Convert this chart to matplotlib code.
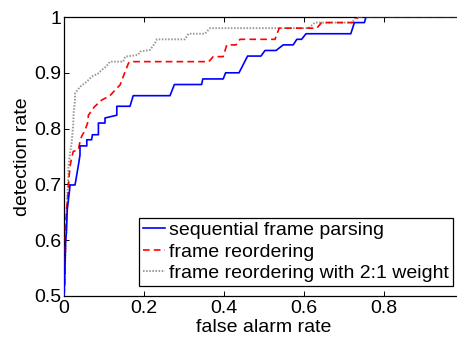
import matplotlib
matplotlib.use("Agg")
import matplotlib.pyplot as plt

plt.rcParams['font.family'] = ['Liberation Sans', 'DejaVu Sans']

# Sequential frame parsing (blue)
seq_x = [0, 0.002, 0.004, 0.006, 0.008, 0.011, 0.014, 0.015, 0.0275, 0.03, 0.034, 0.0375, 0.04, 0.04,
         0.057, 0.057, 0.069, 0.071, 0.086, 0.086, 0.1025, 0.1025, 0.132, 0.132, 0.165, 0.173, 0.265,
         0.276, 0.344, 0.347, 0.398, 0.404, 0.4375, 0.459, 0.4925, 0.5025, 0.53, 0.548, 0.573, 0.582,
         0.594, 0.605, 0.717, 0.726, 0.751, 0.755, 1.0]
seq_y = [0.5, 0.54, 0.6, 0.613, 0.654, 0.672, 0.69, 0.699, 0.699, 0.709, 0.726, 0.741, 0.753, 0.769,
         0.769, 0.78, 0.78, 0.789, 0.789, 0.81, 0.81, 0.819, 0.824, 0.84, 0.84, 0.859, 0.859,
         0.879, 0.879, 0.889, 0.889, 0.9, 0.9, 0.93, 0.93, 0.94, 0.94, 0.95, 0.95, 0.96,
         0.96, 0.97, 0.97, 0.99, 0.99, 1.0, 1.0]

# Frame reordering (red dashed)
reo_x = [0, 0.002, 0.003, 0.004, 0.007, 0.011, 0.012, 0.015, 0.019, 0.023, 0.036, 0.040, 0.044, 0.0525,
         0.059, 0.061, 0.076, 0.094, 0.115, 0.1275, 0.14, 0.148, 0.161, 0.165, 0.362, 0.373, 0.398,
         0.407, 0.43, 0.44, 0.5275, 0.538, 0.632, 0.644, 0.723, 0.736, 1.0]
reo_y = [0.5, 0.52, 0.57, 0.63, 0.66, 0.69, 0.708, 0.732, 0.747, 0.759, 0.762, 0.777, 0.786, 0.797,
         0.81, 0.824, 0.839, 0.851, 0.859, 0.869, 0.878, 0.893, 0.917, 0.92, 0.92, 0.929, 0.929,
         0.95, 0.95, 0.96, 0.96, 0.98, 0.98, 0.99, 0.99, 1.0, 1.0]

# Frame reordering with 2:1 weight (gray dotted)
wgt_x = [0, 0.003, 0.005, 0.007, 0.009, 0.011, 0.011, 0.015, 0.019, 0.023, 0.024, 0.0275, 0.0275, 0.04,
         0.057, 0.069, 0.086, 0.094, 0.105, 0.115, 0.148, 0.153, 0.185, 0.19, 0.215, 0.2275, 0.232,
         0.3025, 0.311, 0.3525, 0.365, 0.611, 0.6275, 0.72, 0.73, 1.0]
wgt_y = [0.5, 0.56, 0.6, 0.654, 0.69, 0.714, 0.732, 0.756, 0.774, 0.806, 0.827, 0.851, 0.863, 0.875,
         0.884, 0.893, 0.899, 0.905, 0.911, 0.92, 0.92, 0.929, 0.932, 0.938, 0.941, 0.953, 0.96,
         0.96, 0.97, 0.97, 0.98, 0.98, 0.99, 0.99, 1.0, 1.0]

labels = ["sequential frame parsing", "frame reordering", "frame reordering with 2:1 weight"]
xticks = [0, 0.2, 0.4, 0.6, 0.8]
yticks = [0.5, 0.6, 0.7, 0.8, 0.9, 1.0]

W, H = 457, 338
fig = plt.figure(figsize=(W / 100, H / 100), dpi=100)
ax = fig.add_axes([64 / W, (H - 296) / H, 400 / W, 279 / H])

ax.plot(wgt_x, wgt_y, linestyle=(0, (0.8, 0.8)), color='0.6', lw=1.4, label=labels[2], zorder=2)
ax.plot(reo_x, reo_y, linestyle=(0, (4, 2.5)), color='red', lw=1.2, label=labels[1], zorder=3)
ax.plot(seq_x, seq_y, '-', color='blue', lw=1.2, label=labels[0], zorder=4)

ax.set_xlim(0, 1)
ax.set_ylim(0.5, 1)
ax.set_xticks(xticks)
ax.set_xticklabels(['0', '0.2', '0.4', '0.6', '0.8'])
ax.set_yticks(yticks)
ax.set_yticklabels(['0.5', '0.6', '0.7', '0.8', '0.9', '1'])
ax.tick_params(direction='in', length=3.5, width=0.7, top=True, right=True, labelsize=14)
ax.tick_params(axis='x', pad=3)
ax.tick_params(axis='y', pad=2)
for s in ax.spines.values():
    s.set_linewidth(0.9)
ax.set_xlabel('false alarm rate', fontsize=14, labelpad=1)
ax.set_ylabel('detection rate', fontsize=14, labelpad=2)

h, l = ax.get_legend_handles_labels()
order = [2, 1, 0]
leg = ax.legend([h[i] for i in order], [l[i] for i in order], loc='lower right',
                bbox_to_anchor=(453 / W, (H - 286) / H), bbox_transform=fig.transFigure,
                fontsize=14, handlelength=1.15, handletextpad=0.2, borderpad=0.2,
                labelspacing=0.2, borderaxespad=0, fancybox=False, framealpha=1)
leg.get_frame().set_edgecolor('black')
leg.get_frame().set_linewidth(0.9)

fig.savefig('out.png', dpi=100)
